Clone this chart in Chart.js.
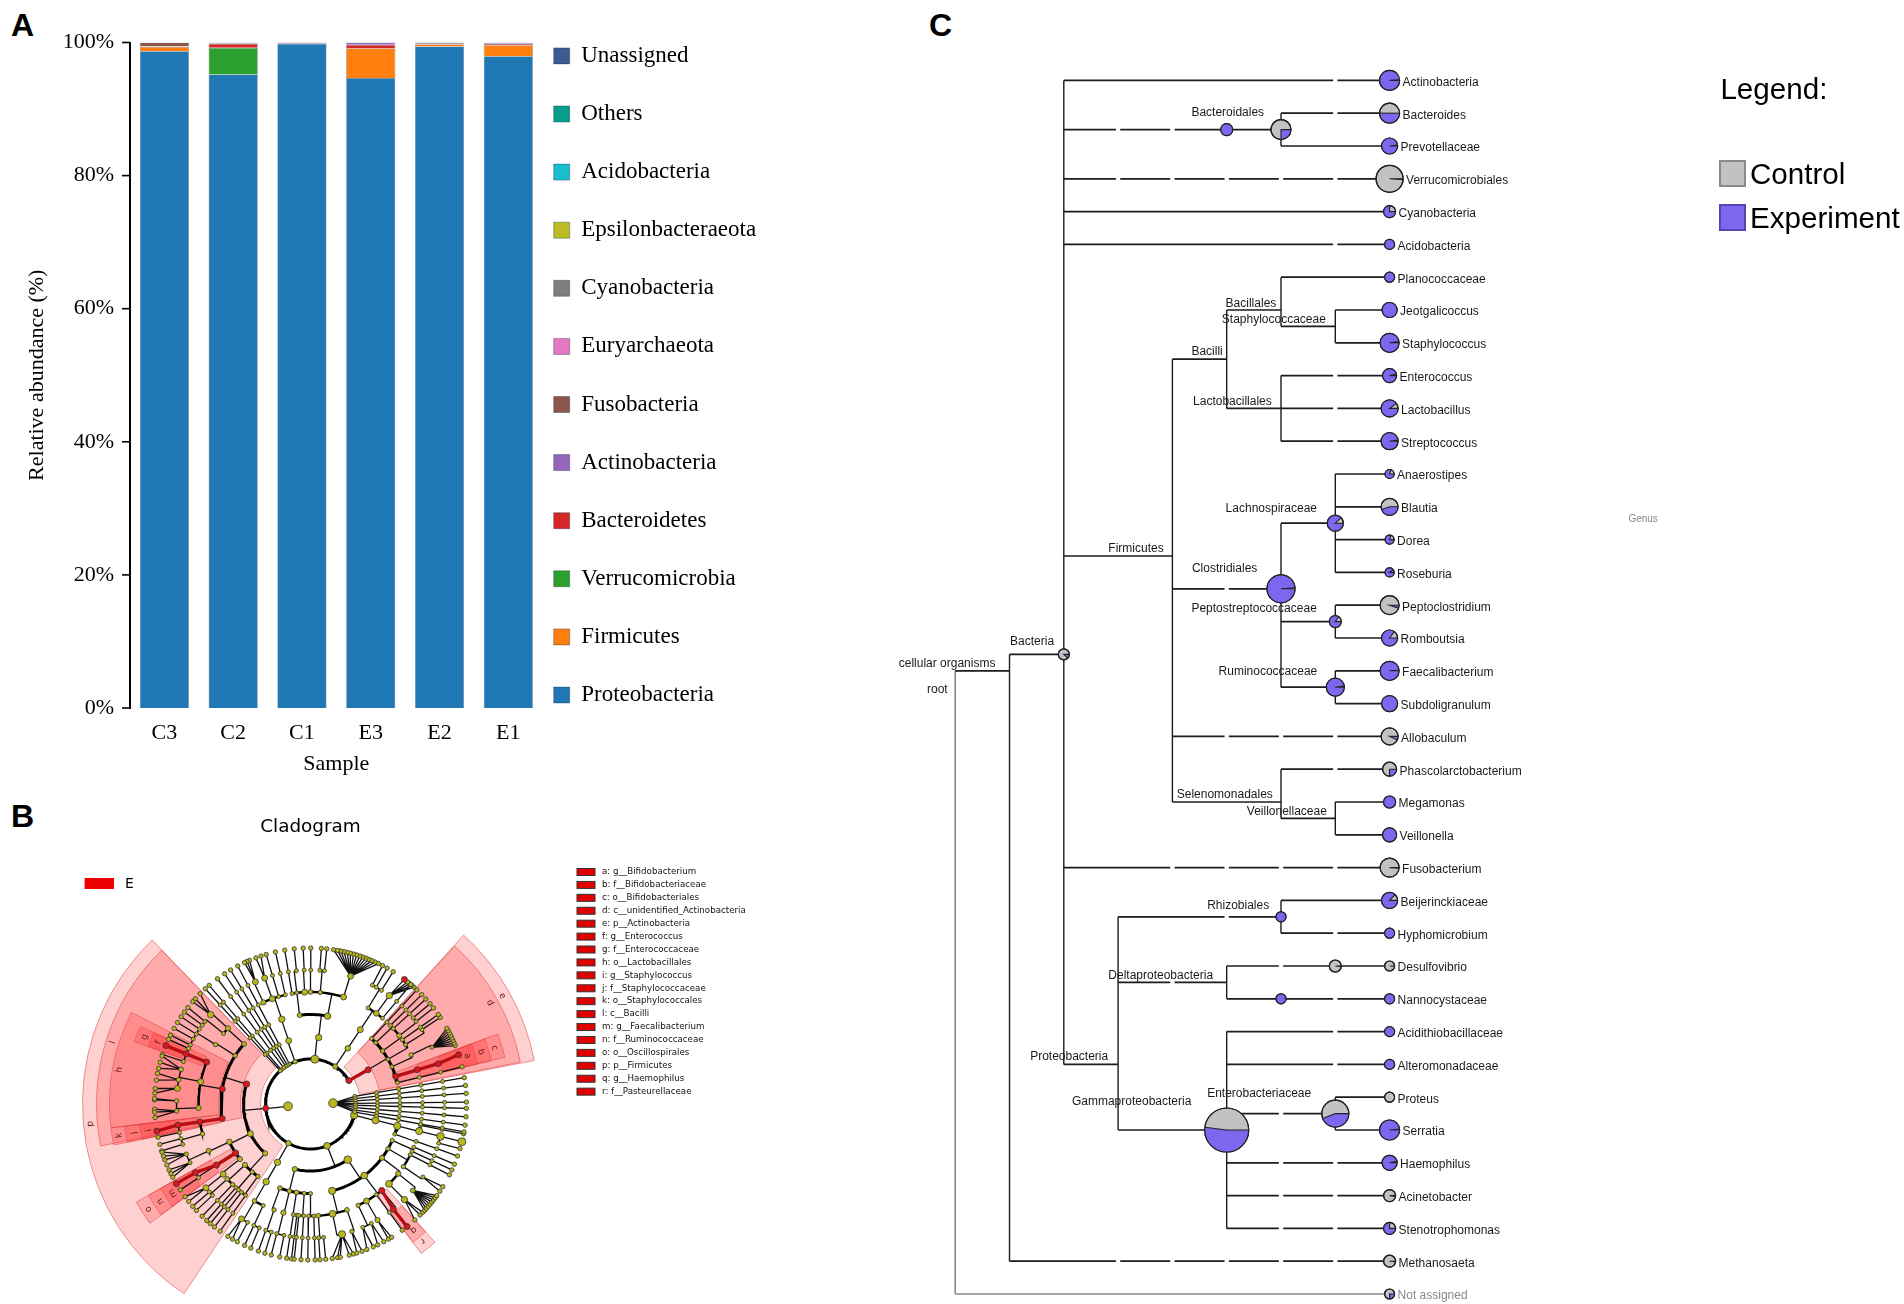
<!DOCTYPE html>
<html><head><meta charset="utf-8">
<style>
html,body{margin:0;padding:0;background:#fff;width:1904px;height:1304px;overflow:hidden}
canvas{position:absolute;display:block}
.tag{position:absolute;font:bold 32px "Liberation Sans",sans-serif;color:#000;line-height:1}
</style>
<script src="https://cdn.jsdelivr.net/npm/chart.js@4/dist/chart.umd.min.js"></script>
</head><body>
<div class="tag" style="left:11px;top:9px">A</div>
<div class="tag" style="left:11px;top:800px">B</div>
<div class="tag" style="left:929px;top:9px">C</div>
<canvas id="barA" width="880" height="790" style="left:0;top:0"></canvas>
<canvas id="cladeB" width="800" height="514" style="left:0;top:790px"></canvas>
<canvas id="treeC" width="1024" height="1304" style="left:880px;top:0"></canvas>
<script>
/* ---------- Panel A data ---------- */
const samples=['C3','C2','C1','E3','E2','E1'];
const proteobacteria=[98.7,95.2,99.8,94.65,99.4,97.95];
const firmicutes=[0.65,0,0,4.5,0.3,1.65];
const verrucomicrobia=[0,4,0,0,0,0];
const bacteroidetes=[0.05,0.6,0.02,0.5,0.05,0.2];
const actinobacteria=[0.05,0.05,0.1,0.35,0.05,0.15];
const fusobacteria=[0.55,0.15,0.08,0,0.2,0.05];
const euryarchaeota=[0,0,0,0,0,0];
const cyanobacteria=[0,0,0,0,0,0];
const epsilon=[0,0,0,0,0,0];
const acidobacteria=[0,0,0,0,0,0];
const others=[0,0,0,0,0,0];
const unassigned=[0,0,0,0,0,0];
const phylumNames=['Proteobacteria','Firmicutes','Verrucomicrobia','Bacteroidetes','Actinobacteria','Fusobacteria','Euryarchaeota','Cyanobacteria','Epsilonbacteraeota','Acidobacteria','Others','Unassigned'];
const phylumValues=[proteobacteria,firmicutes,verrucomicrobia,bacteroidetes,actinobacteria,fusobacteria,euryarchaeota,cyanobacteria,epsilon,acidobacteria,others,unassigned];
const phylumColors=['#1f77b4','#ff7f0e','#2ca02c','#d62728','#9467bd','#8c564b','#e377c2','#7f7f7f','#bcbd22','#17becf','#069d8b','#3d5a91'];

/* ---------- Panel B data: [angle, node radius (negative = enriched), ...children]; a bare number is a single-lineage branch ---------- */
const ringRadii=[22.6,45,67,89.5,112,134,156];
const fanRoot=[2,4.4,9.7,6.8,3.9,0.7,-1.6,-4.7,-7.8,-10.3];
const actinoClade=[31.3,-3,[30.7,-3,
  [17.9,-3,[17.8,-3,[17.5,-3,[18.4,-3]]]],13.8,
  [24.6,2,[26,2.2,[25,2,22,23,24,25,26,27,28,29]]],
  [30,2,[32,2,33.7],35],[36.3,2.2,[37.6,2.5,38,40],42.3],[43.2,2,44.5],47]];
const topClade1=[56.6,2.6,[56.2,2.8,[56.2,3,[59,2,62.5,60.6,58],[54,2.8,[54,3.2,48.5,49.5,50.5,51.5,[53,-3]]],50]]];
const topClade2=[84.4,4,[83,3.2,
  [79,3.2,[72.8,3,[72.6,3,64.2,65.5,66.8,68,69.2,70.4,71.6,72.8,74,75.2,76.4,77.6,78.8,80,81.5]],[85,2.2,86,84],[90,2.4,89.9]],
  [97,2.4,[93,3,92.7],[97,2,96],99.5]]];
const topClade3=[110,2.2,[109,3,[108.7,3.2,[103,2,103],[106.5,2,106.5],[110,3,[110,3,108.5,110.5]],[114.9,2.6,[114.3,3,113,114,115]]]]];
const firmicutesClade=[185.5,-3,
  [162.7,-3.2,
    [137.9,2.4,[137.5,2.6,[138.2,3.2,135,137.6,139]],[141,2,[142,2,141.8],143.9]],
    [147.3,2.2,[148,2.2,146,148.5,151,153.8]],
    [170.3,-3,[158,-3,[158,-3,[158,-3]],155.5,161.5],
      [168.5,3,[165,2.4,162.1,164.5,166.8],[169.6,2.4,168.7,171.2],[173.3,3,174.3,176]],
      [182,2.6,[178.7,2.2,178.5,178],[183,2.2,181.9,183,185]]],
    [189.4,-3,[189.2,-3,[189,-3,[190,-3]],192.3],[195.5,2.2,195,197.5]]],
  [206.3,3,
    [205,2.8,[204.7,2.5,[202,2.2,198,199.5,201,203],[206,2,205,206.5,208]]],
    [213.2,-3,[213,-3,[210.8,-3,[210.7,-3]],213.4]],
    [218,2.6,[218.8,3,[218.7,3,216.5,218.7]]]],
  [227.4,2.6,[222.9,2.6,[222,2.4,221,223],[226,2.2,226]],[229.4,2.2,228.3,230],[234,2.2,232,234.6]]];
const bottomClade1=[240.6,2.8,[240.5,3.2,[240.3,3.2,[240,2.4,[239,3,238,240],242],[245,2,245,247.5]]]];
const bottomClade2=[291.6,3.4,
  [256.4,2.6,[250,2.4,[251,2.2,250.5,253]],[256.4,2.4,[256,2.6,255.4,258.6]],[261,2.4,261.2,263],[266,2,264,266.5],[270,2,269,271.7]],
  [303.8,3.8,
    [284,3.6,[274,2.4,273.5,275.6],[281.4,3.4,[283.6,3.6,278,280,281,284.4,286]],[289,2.4,[288,2.2,287.3,289.3]]],
    [306.9,3.4,[295.2,2.2,[293,2,291.2,293.7],[297,2,295.5,298]],[300,3,[300,2.6,300,301.3]],306,[309.5,-3,[308.2,-3,[308.2,-3]]]],
    [323,2.6,[314.5,3.4,[314.5,3.2,312,314.6,316]],[321.5,2.6,[319.8,2.4,317,318,319,320,321,322,323,324]]],
    [330,2.2,[326,2.2,[327,2,326,328]],333],[336,2.2,335,337.3]]];
const bottomClade3=[345.6,3.6,[346,3.6,[345.8,3.6,[346,3.6,[346,3.8,[346,4]],[343,2,343.4]],[349,2,349]],[340.3,2,340.5]]];
const bacteriaRoot=[185.8,4.4,actinoClade,topClade1,topClade2,topClade3,117.8,120.8,123.4,126.6,130.5,132.4,firmicutesClade,bottomClade1,bottomClade2,bottomClade3];
const cladeKeys=['a: g__Bifidobacterium','b: f__Bifidobacteriaceae','c: o__Bifidobacteriales','d: c__unidentified_Actinobacteria','e: p__Actinobacteria','f: g__Enterococcus','g: f__Enterococcaceae','h: o__Lactobacillales','i: g__Staphylococcus','j: f__Staphylococcaceae','k: o__Staphylococcales','l: c__Bacilli','m: g__Faecalibacterium','n: f__Ruminococcaceae','o: o__Oscillospirales','p: p__Firmicutes','q: g__Haemophilus','r: f__Pasteurellaceae'];
/* letter, inner radius, outer radius, start angle, end angle, letter radius */
const cladeSectors=[
 ['p',50,228,134,236.3,221],['e',50,228,11,47.8,220],
 ['l',70,214,134.1,191.3,207],['d',70,214,11.3,47.6,206],
 ['h',92,201,152.9,186.8,194],['k',92,201,186.8,191.8,194],
 ['j',114,187,186.8,191.8,179],['i',137,172,186.8,191.8,164],
 ['g',114,187,155.5,160.5,179],['f',137,172,155.5,160.5,164],
 ['o',92,200,209.4,216.6,193],['n',114,186,209.4,216.6,179],['m',137,172,209.4,216.6,164],
 ['c',92,200,13.5,20.5,192],['b',114,186,13.5,20.5,178],['a',137,172,13.5,20.5,164],
 ['r',114,186,306.5,312,177],['q',137,172,306.5,312,163]];

/* ---------- Panel C data ---------- */
const leafNames=['Actinobacteria','Bacteroides','Prevotellaceae','Verrucomicrobiales','Cyanobacteria','Acidobacteria','Planococcaceae','Jeotgalicoccus','Staphylococcus','Enterococcus','Lactobacillus','Streptococcus','Anaerostipes','Blautia','Dorea','Roseburia','Peptoclostridium','Romboutsia','Faecalibacterium','Subdoligranulum','Allobaculum','Phascolarctobacterium','Megamonas','Veillonella','Fusobacterium','Beijerinckiaceae','Hyphomicrobium','Desulfovibrio','Nannocystaceae','Acidithiobacillaceae','Alteromonadaceae','Proteus','Serratia','Haemophilus','Acinetobacter','Stenotrophomonas','Methanosaeta','Not assigned'];
const leafSize=[10,10,8,13.5,6,5,5,7.5,9.5,7,8.5,8.5,4.5,8.5,4.5,4.5,9.5,8,9.5,8,8.5,7,6,7,9.5,8,5,5,5,5,5,5,10,7.5,6,6,6,5];
const leafExperimentShare=[.99,.5,.98,.01,.75,1,1,1,.98,.97,.9,.98,.8,.45,.8,.9,.05,.85,.99,1,.07,.25,1,1,.01,.87,1,.01,1,1,1,0,.99,.97,.02,.75,.01,.25];
/* name, depth, row, size, experiment share */
const innerNodes=[['Bacteria',2,17.5,5.5,.12],['Bacteroidales',5,1.5,6,1],['Bacteroidales family',6,1.5,10,.25],['Clostridiales',6,15.5,14,.99],['Lachnospiraceae',7,13.5,8,.88],['Peptostreptococcaceae',7,16.5,6,.85],['Ruminococcaceae',7,18.5,9,.98],['Rhizobiales',6,25.5,5,1],['Desulfovibrionales',7,27,6,.01],['Nannocystales',6,28,5,1],['Gammaproteobacteria',5,32,22,.52],['Enterobacteriaceae',7,31.5,13.5,.44]];
/* row, from depth, to depth, then depths where the line is interrupted */
const greyEdges=[[18,0,1],[37,0,8]];
const greyVerticals=[[0,18,37]];
const horizontalEdges=[[17.5,1,2],[36,1,8,3,4,5,6,7],[0,2,8,7],[1.5,2,6,3,4],[3,2,8,3,4,5,6,7],[4,2,8],[5,2,8,7],[14.5,2,4],[24,2,8,4,5,6,7],[30,2,3],
[1,6,8,7],[2,6,8],[8.5,4,5],[15.5,4,6,5],[20,4,8,5,6,7],[22,4,6],[7,5,6],[10,5,6],[6,6,8],[7.5,6,7],[7,7,8],[8,7,8],[9,6,8,7],[10,6,8,7],[11,6,8,7],
[13.5,6,7],[16.5,6,7],[18.5,6,7],[12,7,8],[13,7,8],[14,7,8],[15,7,8],[16,7,8],[17,7,8],[18,7,8],[19,7,8],[21,6,8,7],[22.5,6,7],[22,7,8],[23,7,8],
[25.5,3,6,5],[27.5,3,5,4],[32,3,5],[25,6,8],[26,6,8,7],[27,5,8,6],[28,5,8,7],[29,5,8,7],[30,5,8,7],[31.5,5,7,6],[31,7,8],[32,7,8],[33,5,8,6,7],[34,5,8,6,7],[35,5,8,6,7]];
const verticalEdges=[[1,17.5,36],[2,0,30],[4,8.5,22],[3,25.5,32],[5,7,10],[6,6,7.5],[7,7,8],[6,9,11],[6,13.5,18.5],[7,12,15],[7,16,17],[7,18,19],[6,21,22.5],[7,22,23],[6,1,2],[6,25,26],[5,27,28],[5,29,35],[7,31,32]];
const innerLabels=[['Bacteroidales',4.35,.96],['Bacillales',4.98,6.77],['Staphylococcaceae',4.91,7.27],['Bacilli',4.35,8.25],['Lactobacillales',4.38,9.77],['Firmicutes',2.82,14.26],['Lachnospiraceae',4.98,13.04],['Clostridiales',4.36,14.87],['Peptostreptococcaceae',4.35,16.09],['Bacteria',1.01,17.09],['cellular organisms',-1.04,17.76],['root',-.52,18.55],['Ruminococcaceae',4.85,17.99],['Selenomonadales',4.08,21.76],['Veillonellaceae',5.37,22.27],['Rhizobiales',4.64,25.13],['Deltaproteobacteria',2.82,27.26],['Proteobacteria',1.38,29.74],['Gammaproteobacteria',2.15,31.1],['Enterobacteriaceae',4.64,30.87]];

const SERIF='"Liberation Serif",serif', SANS='"Liberation Sans",sans-serif', DEJA='"DejaVu Sans",sans-serif';
Chart.defaults.animation=false; Chart.defaults.responsive=false; Chart.defaults.devicePixelRatio=1;
Chart.defaults.plugins.tooltip.enabled=false;

/* ---------- Panel A ---------- */
new Chart(document.getElementById('barA'),{
 type:'bar',
 data:{labels:samples,datasets:phylumNames.map((n,i)=>({label:n,data:phylumValues[i],backgroundColor:phylumColors[i],borderColor:'rgba(30,40,60,.6)',borderWidth:.6,categoryPercentage:1,barPercentage:.715}))},
 options:{
  layout:{autoPadding:false,padding:{top:42.5,right:156.4,left:0,bottom:0}},
  plugins:{legend:{position:'right',reverse:true,align:'start',
    labels:{boxWidth:16,boxHeight:16,padding:35.1,color:'#000',font:{family:SERIF,size:23}}}},
  scales:{
   x:{stacked:true,grid:{display:false},border:{display:false},
      ticks:{color:'#000',font:{family:SERIF,size:22},padding:4,maxRotation:0},
      title:{display:true,text:'Sample',color:'#000',font:{family:SERIF,size:22},padding:{top:0,bottom:13}},
      afterFit(s){s.height=82}},
   y:{stacked:true,min:0,max:100,grid:{display:false,drawTicks:false},border:{display:true,color:'#000',width:2},
      ticks:{stepSize:20,color:'#000',font:{family:SERIF,size:22},padding:16,callback:v=>v+'%'},
      title:{display:true,text:'Relative abundance (%)',color:'#000',font:{family:SERIF,size:22},padding:{top:24,bottom:0}},
      afterFit(s){s.width=130}}
  }},
 plugins:[{id:'fixLegend',
  beforeLayout(c){c.legend.afterFit=function(){this.width=0}},
  afterLayout(c){const l=c.legend;l.left=518.6;l.right=800;l.top=9.3;l.bottom=790},
  afterDraw(c){const ctx=c.ctx,y=c.scales.y;ctx.save();ctx.strokeStyle='#000';ctx.lineWidth=1.6;
    [0,20,40,60,80,100].forEach(v=>{const p=y.getPixelForValue(v);ctx.beginPath();ctx.moveTo(c.chartArea.left-8,p);ctx.lineTo(c.chartArea.left,p);ctx.stroke()});ctx.restore()}
 }]
});

/* ---------- Panel B ---------- */
const toXY=(r,a)=>({x:r*Math.cos(a*Math.PI/180),y:r*Math.sin(a*Math.PI/180)});
const nodesY=[],nodesR=[],thin=[],redLines=[];
const arcsByWidth={3:[],2.4:[],1.4:[]};
const arcWidth=[0,3,3,3,2.4,1.4,1.4];
const brk={x:null,y:null};
function addNode(n,d,straight,parent){
 const node=typeof n==='number'?[n,d===6?2.2:2,...(d<6?[n]:[])]:n;
 const a=node[0],s=node[1],kids=node.slice(2);
 const red=s<0;
 (red?nodesR:nodesY).push({...toXY(ringRadii[d],a),rad:Math.abs(s)});
 if(parent&&red&&parent[1]<0&&Math.abs(parent[0]-a)<3){redLines.push(toXY(ringRadii[d-1],parent[0]),toXY(ringRadii[d],a),brk)}
 if(!kids.length)return;
 const ks=kids.map(k=>typeof k==='number'?k:k[0]);
 const useStraight=straight||d===5;
 if(useStraight){
  kids.forEach((k,i)=>{thin.push(toXY(ringRadii[d],a),toXY(ringRadii[d+1],ks[i]),brk)});
 }else{
  thin.push(toXY(ringRadii[d],a),toXY(ringRadii[d+1],a),brk);
  const lo=Math.min(a,...ks),hi=Math.max(a,...ks);
  if(hi-lo>.01){const w=arcsByWidth[arcWidth[d+1]];const steps=Math.max(1,Math.ceil((hi-lo)/1.5));
   for(let i=0;i<=steps;i++)w.push(toXY(ringRadii[d+1],lo+(hi-lo)*i/steps));w.push(brk)}
 }
 kids.forEach(k=>addNode(k,d+1,false,node));
}
addNode(bacteriaRoot,0,false,null);
addNode(fanRoot,0,true,null);
const lineSet=(data,color,w,order)=>({type:'scatter',showLine:true,data,borderColor:color,borderWidth:w,pointRadius:0,order,spanGaps:false,borderCapStyle:'butt'});
const nodeSet=(data,fill,order)=>({type:'scatter',showLine:false,data,backgroundColor:fill,borderColor:'#333',borderWidth:.8,order,pointRadius:c=>c.raw?c.raw.rad:0});
new Chart(document.getElementById('cladeB'),{
 type:'scatter',
 data:{datasets:[
  nodeSet(nodesR,'#e0141a',1),nodeSet(nodesY,'#b8b81c',2),
  lineSet(redLines,'#b80d12',3.4,3),
  lineSet(arcsByWidth[3],'#000',3,4),lineSet(arcsByWidth[2.4],'#000',2.4,4),lineSet(arcsByWidth[1.4],'#000',1.4,4),
  lineSet(thin,'#111',1.3,5)]},
 options:{layout:{autoPadding:false,padding:0},plugins:{legend:{display:false}},
  scales:{x:{type:'linear',display:false,min:-310.5,max:489.5},y:{type:'linear',display:false,min:-200,max:314}}},
 plugins:[{id:'sectors',
  beforeDatasetsDraw(c){const ctx=c.ctx,X=c.scales.x,Y=c.scales.y,cx=X.getPixelForValue(0),cy=Y.getPixelForValue(0),u=X.getPixelForValue(1)-cx;
   ctx.save();
   cladeSectors.forEach(([l,r0,r1,a0,a1])=>{ctx.beginPath();ctx.arc(cx,cy,r1*u,-a0*Math.PI/180,-a1*Math.PI/180,true);ctx.arc(cx,cy,r0*u,-a1*Math.PI/180,-a0*Math.PI/180,false);ctx.closePath();
     ctx.fillStyle='rgba(255,20,20,.2)';ctx.fill();ctx.strokeStyle='rgba(225,70,70,.55)';ctx.lineWidth=1;ctx.stroke()});
   ctx.restore()},
  afterDraw(c){const ctx=c.ctx,X=c.scales.x,Y=c.scales.y;ctx.save();
   ctx.textAlign='center';ctx.textBaseline='middle';ctx.fillStyle='#6b2020';ctx.font='9px '+DEJA;
   cladeSectors.forEach(([l,r0,r1,a0,a1,rl])=>{const a=(a0+a1)/2,p=toXY(rl,a);ctx.save();ctx.translate(X.getPixelForValue(p.x),Y.getPixelForValue(p.y));ctx.rotate((90-a)*Math.PI/180);ctx.fillText(l,0,0);ctx.restore()});
   ctx.fillStyle='#000';ctx.font='18.4px '+DEJA;ctx.fillText('Cladogram',310.5,37);
   ctx.fillStyle='#ee0000';ctx.fillRect(84.6,88,29.4,11);
   ctx.fillStyle='#000';ctx.font='14px '+DEJA;ctx.textAlign='left';ctx.fillText('E',125,94);
   ctx.font='8.7px '+DEJA;
   cladeKeys.forEach((k,i)=>{const y=82+i*12.92;ctx.fillStyle='#e00000';ctx.strokeStyle='#333';ctx.lineWidth=1;ctx.fillRect(577,y-3.5,18,7);ctx.strokeRect(577,y-3.5,18,7);ctx.fillStyle='#111';ctx.fillText(k,602,y)});
   ctx.restore()}
 }]
});

/* ---------- Panel C ---------- */
function edgePoints(list){const pts=[];list.forEach(([row,d0,d1,...gaps])=>{let cur=d0;gaps.forEach(g=>{pts.push({x:cur,y:row},{x:g-.04,y:row},{x:null,y:null});cur=g+.04});pts.push({x:cur,y:row},{x:d1,y:row},{x:null,y:null})});return pts}
function vertPoints(list){const pts=[];list.forEach(([d,r0,r1])=>pts.push({x:d,y:r0},{x:d,y:r1},{x:null,y:null}));return pts}
const leafNodes=leafNames.map((n,i)=>({x:8,y:i,r:leafSize[i],share:leafExperimentShare[i]}));
const innerNodePts=innerNodes.map(([n,d,r,s,f])=>({x:d,y:r,r:s,share:f}));
const pieData=innerNodePts.concat(leafNodes);
const PURPLE='#7b68ee',GREY='#c2c2c2';
new Chart(document.getElementById('treeC'),{
 type:'scatter',
 data:{datasets:[
  {type:'bubble',data:pieData,backgroundColor:GREY,borderColor:'#222',borderWidth:1.2,order:1},
  lineSet(edgePoints(horizontalEdges),'#1c1c1c',1.7,2),
  lineSet(vertPoints(verticalEdges),'#1c1c1c',1.4,2),
  lineSet(edgePoints(greyEdges).slice(0,3),'#1c1c1c',1.7,2),
  lineSet(edgePoints(greyEdges).slice(3),'#8a8a8a',1.7,3),
  lineSet(vertPoints(greyVerticals),'#8a8a8a',1.6,3)]},
 options:{layout:{autoPadding:false,padding:0},plugins:{legend:{display:false}},
  scales:{x:{type:'linear',display:false,min:(880-955.2)/54.3,max:(1904-955.2)/54.3},
          y:{type:'linear',display:false,reverse:true,min:-80.4/32.8,max:(1304-80.4)/32.8}}},
 plugins:[{id:'piesAndText',
  afterDatasetsDraw(c){const ctx=c.ctx,meta=c.getDatasetMeta(0),X=c.scales.x,Y=c.scales.y;ctx.save();
   meta.data.forEach((el,i)=>{const d=pieData[i],{x,y}=el.getProps(['x','y'],true),r=d.r,end=d.share*2*Math.PI;
    if(d.share>0){ctx.beginPath();ctx.moveTo(x,y);if(d.share>=1)ctx.arc(x,y,r,0,2*Math.PI);else ctx.arc(x,y,r,0,end);ctx.closePath();ctx.fillStyle=PURPLE;ctx.fill()}
    if(d.share>0&&d.share<1){ctx.strokeStyle='#222';ctx.lineWidth=1.1;ctx.beginPath();ctx.moveTo(x+r,y);ctx.lineTo(x,y);ctx.lineTo(x+r*Math.cos(end),y+r*Math.sin(end));ctx.stroke()}
    ctx.beginPath();ctx.arc(x,y,r,0,2*Math.PI);ctx.strokeStyle='#222';ctx.lineWidth=1.2;ctx.stroke()});
   ctx.textBaseline='middle';ctx.textAlign='left';ctx.font='12px '+SANS;
   leafNames.forEach((n,i)=>{ctx.fillStyle=n==='Not assigned'?'#8a8a8a':'#1a1a1a';ctx.fillText(n,X.getPixelForValue(8)+leafSize[i]+3,Y.getPixelForValue(i)+2)});
   ctx.fillStyle='#1a1a1a';
   innerLabels.forEach(([n,d,r])=>ctx.fillText(n,X.getPixelForValue(d),Y.getPixelForValue(r)+1));
   ctx.fillStyle='#888';ctx.font='10px '+SANS;ctx.fillText('Genus',748.4,519);
   ctx.fillStyle='#000';ctx.font='29.6px '+SANS;ctx.fillText('Legend:',840.4,91);
   ctx.fillText('Control',870,176);ctx.fillText('Experiment',870,220);
   ctx.lineWidth=2;ctx.fillStyle=GREY;ctx.strokeStyle='#8a8a8a';ctx.fillRect(840,161,25,25);ctx.strokeRect(840,161,25,25);
   ctx.fillStyle=PURPLE;ctx.strokeStyle='#5646b4';ctx.fillRect(840,205,25,25);ctx.strokeRect(840,205,25,25);
   ctx.restore()}
 }]
});
</script>
</body></html>
